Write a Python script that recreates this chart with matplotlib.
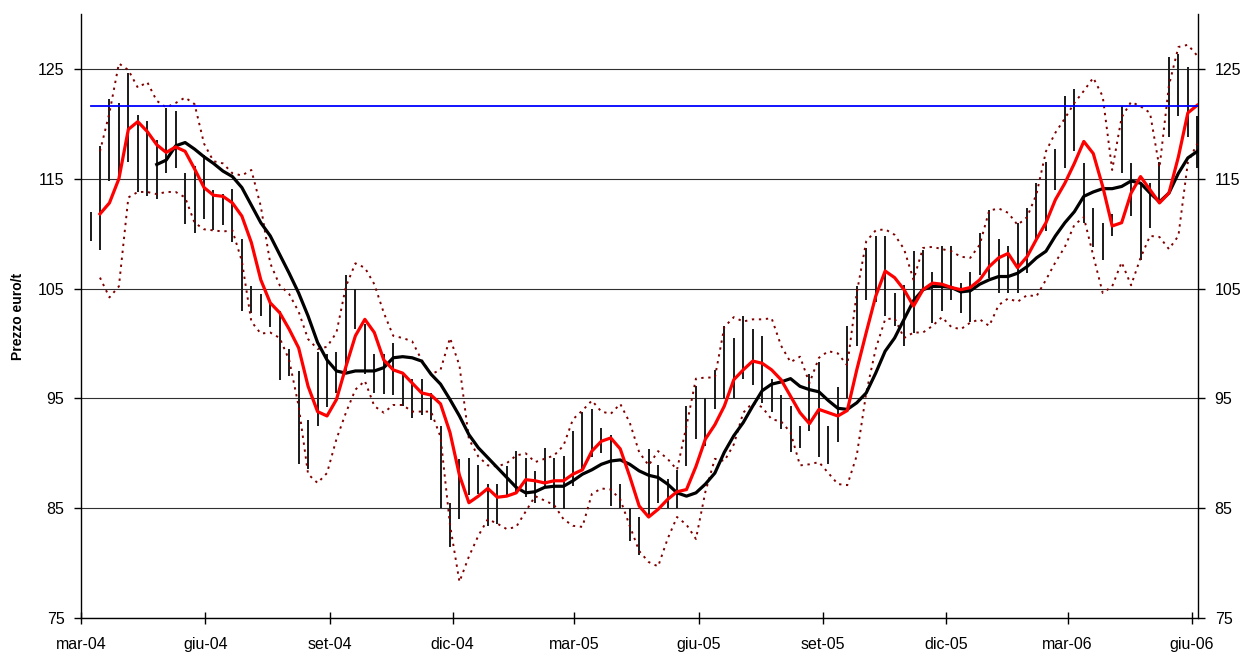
import numpy as np
import pandas as pd
import matplotlib
matplotlib.use("Agg")
import matplotlib.pyplot as plt

plt.rcParams['font.family'] = ['Liberation Sans', 'DejaVu Sans']

# weekly sampling starting 1 Mar 2004
start_date = "2004-03-01"
n_weeks = 119

price_high = [117.2, 112.0, 118.0, 122.3, 121.9, 124.6, 120.8, 120.3, 118.5, 121.4,
              121.2, 115.5, 116.2, 117.2, 114.0, 113.6, 114.1, 109.5, 105.2, 104.5,
              103.8, 103.0, 99.5, 97.5, 93.0, 99.2, 99.0, 99.2, 106.2, 105.0,
              101.8, 99.0, 99.0, 100.0, 97.2, 96.8, 96.8, 95.5, 92.5, 85.5,
              89.5, 89.6, 88.9, 87.2, 87.2, 88.8, 90.2, 89.6, 88.4, 90.5,
              89.6, 89.8, 92.0, 93.8, 94.0, 92.3, 91.7, 87.2, 85.0, 84.2,
              90.4, 88.9, 87.7, 88.5, 94.3, 96.1, 95.0, 97.6, 101.6, 100.5,
              102.5, 101.3, 100.7, 96.8, 95.3, 94.3, 92.5, 97.2, 98.3, 92.5,
              96.0, 101.6, 105.2, 108.7, 109.8, 109.8, 104.6, 105.3, 108.4, 108.5,
              106.5, 108.9, 108.9, 105.5, 106.5, 110.1, 112.2, 109.5, 108.9, 111.0,
              112.3, 114.6, 116.5, 117.7, 122.5, 123.2, 116.4, 112.3, 111.0, 111.8,
              121.6, 116.4, 114.6, 114.6, 116.5, 126.1, 126.4, 125.2, 120.7]

price_low = [113.3, 109.3, 108.5, 114.8, 115.2, 116.5, 113.8, 113.4, 113.2, 115.5,
             116.0, 110.9, 110.1, 111.3, 110.3, 110.8, 109.2, 103.0, 102.8, 102.5,
             101.5, 96.7, 97.0, 89.0, 88.6, 92.5, 94.2, 95.5, 97.5, 101.3,
             97.2, 95.5, 95.4, 95.3, 94.3, 93.2, 93.5, 93.0, 85.0, 81.5,
             84.0, 86.2, 86.3, 83.4, 83.6, 86.0, 86.3, 86.0, 85.5, 87.0,
             85.0, 84.9, 87.0, 88.5, 89.7, 90.0, 85.2, 85.0, 82.0, 80.7,
             84.3, 85.5, 85.0, 85.0, 88.8, 91.3, 90.7, 94.0, 95.0, 95.0,
             96.8, 96.2, 94.6, 93.8, 92.2, 90.1, 90.5, 92.0, 89.7, 89.0,
             91.0, 95.0, 99.8, 104.0, 103.8, 102.5, 101.6, 99.8, 101.0, 105.0,
             101.9, 103.0, 104.0, 102.8, 102.0, 106.2, 106.0, 104.6, 104.6, 104.6,
             106.4, 109.5, 110.2, 114.0, 116.0, 117.5, 111.0, 108.8, 107.6, 109.8,
             115.5, 111.6, 107.6, 110.5, 112.8, 118.8, 120.7, 118.8, 116.0]

nan = np.nan
ma_short = [nan, nan, 111.8, 112.8, 115.0, 119.5, 120.2, 119.3, 118.1, 117.4,
            117.9, 117.5, 115.9, 114.2, 113.5, 113.4, 112.8, 111.6, 109.2, 105.8,
            103.7, 102.8, 101.3, 99.6, 96.1, 93.8, 93.4, 94.9, 97.9, 100.7,
            102.2, 101.0, 98.5, 97.6, 97.3, 96.4, 95.5, 95.3, 94.5, 91.9,
            88.0, 85.5, 86.1, 86.8, 86.0, 86.1, 86.4, 87.6, 87.5, 87.3,
            87.5, 87.5, 88.1, 88.5, 90.2, 91.1, 91.4, 90.4, 87.9, 85.2,
            84.2, 84.9, 85.8, 86.5, 86.7, 88.8, 91.3, 92.6, 94.3, 96.7,
            97.6, 98.4, 98.2, 97.6, 96.7, 95.2, 93.7, 92.7, 94.0, 93.7,
            93.4, 93.9, 97.6, 101.0, 104.3, 106.6, 106.0, 104.9, 103.4, 104.9,
            105.5, 105.4, 105.1, 104.9, 105.1, 105.8, 107.0, 107.8, 108.2, 106.9,
            107.9, 109.5, 111.0, 113.1, 114.6, 116.4, 118.4, 117.3, 114.3, 110.7,
            111.0, 113.7, 115.2, 114.0, 112.8, 113.7, 117.0, 121.0, 121.7]

ma_long = [nan, nan, nan, nan, nan, nan, nan, nan, 116.3, 116.7,
           118.0, 118.3, 117.7, 117.0, 116.4, 115.7, 115.2, 114.2, 112.6, 111.0,
           109.8, 108.1, 106.4, 104.6, 102.5, 100.1, 98.5, 97.5, 97.3, 97.5,
           97.5, 97.5, 97.8, 98.7, 98.8, 98.7, 98.4, 97.2, 96.3, 94.9,
           93.4, 91.7, 90.5, 89.6, 88.7, 87.8, 86.9, 86.4, 86.5, 86.9,
           87.0, 87.0, 87.5, 88.1, 88.5, 89.0, 89.3, 89.4, 89.0, 88.4,
           88.0, 87.8, 87.2, 86.4, 86.1, 86.4, 87.2, 88.2, 90.1, 91.6,
           92.8, 94.3, 95.7, 96.3, 96.5, 96.8, 96.1, 95.8, 95.6, 94.8,
           94.1, 94.0, 94.6, 95.5, 97.3, 99.3, 100.5, 102.2, 103.9, 104.9,
           105.2, 105.2, 105.1, 104.7, 104.8, 105.4, 105.8, 106.1, 106.1, 106.4,
           107.0, 107.8, 108.4, 109.8, 111.0, 112.0, 113.4, 113.8, 114.1, 114.1,
           114.3, 114.8, 114.6, 113.7, 112.9, 113.7, 115.5, 116.9, 117.5]

band_upper = [nan, nan, 117.5, 121.0, 125.5, 124.9, 123.3, 123.8, 122.1, 121.5,
              121.9, 122.4, 121.8, 118.2, 116.6, 116.4, 115.5, 115.3, 115.8, 112.5,
              107.3, 105.3, 104.5, 102.9, 100.4, 99.5, 99.7, 101.0, 105.2, 107.3,
              106.9, 105.4, 102.8, 100.7, 100.5, 100.2, 98.5, 97.2, 97.6, 100.5,
              98.0, 91.3, 89.7, 88.9, 88.8, 89.1, 89.8, 90.0, 89.2, 89.5,
              89.8, 90.7, 93.1, 93.9, 94.8, 93.8, 93.6, 94.5, 92.8, 90.1,
              88.9, 90.2, 89.5, 88.5, 92.5, 96.8, 96.9, 96.9, 101.5, 102.4,
              102.0, 102.2, 102.2, 102.3, 99.8, 98.3, 98.8, 96.4, 98.7, 99.3,
              99.1, 98.0, 104.6, 109.3, 110.3, 110.4, 109.9, 108.6, 105.8, 108.7,
              108.8, 108.6, 108.4, 107.9, 107.8, 109.0, 112.1, 112.3, 111.9, 110.8,
              111.5, 113.6, 117.5, 119.2, 120.5, 121.9, 123.0, 124.2, 122.5, 115.8,
              120.6, 122.0, 121.6, 121.0, 116.0, 123.5, 127.0, 127.2, 126.2]

band_lower = [nan, nan, 106.0, 104.2, 105.2, 113.3, 113.8, 113.8, 113.6, 113.8,
              113.8, 113.3, 111.0, 110.4, 110.3, 110.2, 110.3, 107.5, 102.0, 100.9,
              101.0, 100.5, 98.5, 94.3, 88.1, 87.3, 88.2, 91.3, 93.7, 95.8,
              96.6, 94.3, 93.7, 94.4, 94.4, 93.8, 93.8, 93.8, 91.5, 83.5,
              78.3, 80.6, 82.5, 84.0, 83.6, 83.1, 83.3, 84.7, 86.1, 85.7,
              85.3, 84.0, 83.4, 83.3, 86.3, 86.8, 86.7, 85.8, 83.4, 81.1,
              80.1, 79.7, 82.2, 84.2, 83.5, 82.2, 86.5, 89.5, 89.3, 90.8,
              93.7, 94.6, 94.2, 93.1, 92.9, 91.9, 88.9, 89.0, 89.2, 88.2,
              87.2, 87.1, 89.8, 95.5, 99.5, 102.2, 102.3, 100.5, 101.0, 101.0,
              101.6, 102.4, 101.5, 101.3, 101.9, 102.2, 101.6, 103.5, 104.1, 103.8,
              104.4, 104.3, 105.8, 107.4, 108.8, 110.8, 111.5, 108.0, 104.6, 105.2,
              107.4, 105.3, 107.8, 109.8, 109.7, 108.6, 109.8, 116.5, 118.2]

ref_level = 121.6
ref_start = "2004-03-08"

tick_dates = ["2004-03-01", "2004-06-01", "2004-09-01", "2004-12-01", "2005-03-01",
              "2005-06-01", "2005-09-01", "2005-12-01", "2006-03-01", "2006-06-01"]
tick_labels = ["mar-04", "giu-04", "set-04", "dic-04", "mar-05",
               "giu-05", "set-05", "dic-05", "mar-06", "giu-06"]
y_ticks = [75, 85, 95, 105, 115, 125]

dates = pd.date_range(start_date, periods=n_weeks, freq="7D")

fig = plt.figure(figsize=(12.47, 6.54), dpi=100)
ax = fig.add_axes([0.065, 0.055, 0.8957, 0.9235])

for yv in y_ticks:
    ax.axhline(yv, color="#303030", lw=0.8, zorder=1)

ax.vlines(dates, price_low, price_high, color="#1a1a1a", lw=1.4, zorder=2)

ax.plot(dates, band_upper, color="#800000", lw=1.4, ls=(0, (1.2, 2.4)), zorder=3)
ax.plot(dates, band_lower, color="#800000", lw=1.4, ls=(0, (1.2, 2.4)), zorder=3)
ax.plot(dates, ma_long, color="black", lw=2.3, zorder=4)
ax.plot(dates, ma_short, color="#ff0000", lw=2.3, zorder=5)

x_end = pd.Timestamp("2006-06-05 12:00")
ax.plot([pd.Timestamp(ref_start), x_end], [ref_level, ref_level], color="#0000ff", lw=1.3, zorder=6)

ax.set_xlim(pd.Timestamp(start_date), x_end)
ax.set_ylim(75, 130)
ax.set_yticks(y_ticks)
ax.set_xticks(pd.to_datetime(tick_dates))
ax.set_xticklabels(tick_labels)

ax.spines["top"].set_visible(False)
for s in ["left", "right", "bottom"]:
    ax.spines[s].set_linewidth(1.0)
    ax.spines[s].set_color("black")

ax.tick_params(axis="x", direction="inout", length=9, width=1, labelsize=11.5, pad=9)
ax.tick_params(axis="y", direction="out", length=5, width=1, labelsize=11.5, pad=7,
               left=True, right=True, labelleft=True, labelright=True)

ax.set_ylabel("Prezzo euro/t", fontsize=10, fontweight="bold", labelpad=9)

fig.savefig("out.png", dpi=100)
